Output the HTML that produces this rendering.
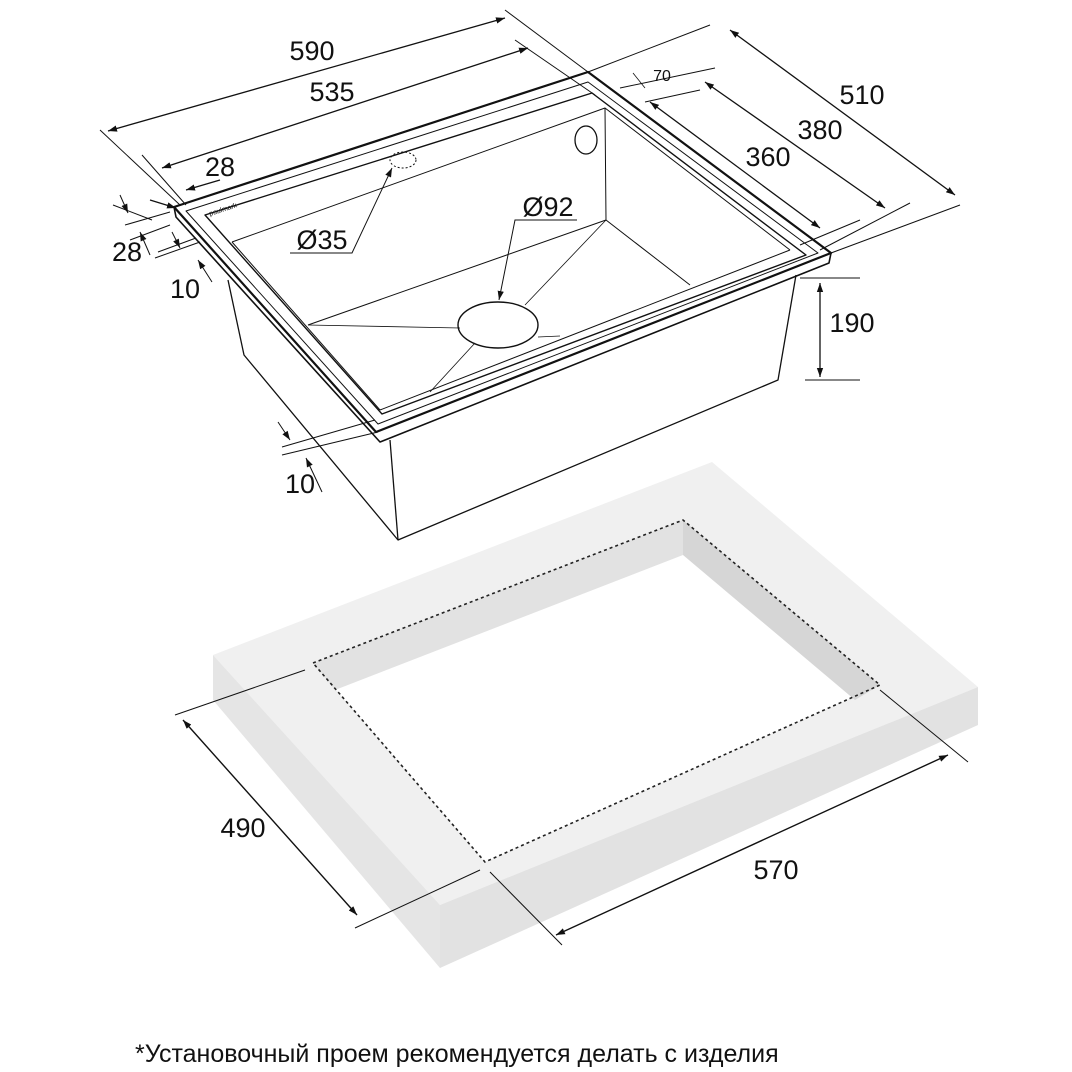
<!DOCTYPE html>
<html><head><meta charset="utf-8"><style>
html,body{margin:0;padding:0;background:#fff;width:1072px;height:1072px;overflow:hidden}
svg{display:block}
text{font-family:"Liberation Sans",sans-serif;fill:#111}
</style></head><body>
<svg width="1072" height="1072" viewBox="0 0 1072 1072" xmlns="http://www.w3.org/2000/svg">
<defs>
<marker id="a" viewBox="0 0 10 10" refX="10" refY="5" markerWidth="9" markerHeight="9" orient="auto-start-reverse" markerUnits="userSpaceOnUse"><path d="M0,1.5 L10,5 L0,8.5z" fill="#111"/></marker>
</defs>
<!-- countertop -->
<polygon points="213,655 712,462 978,687 440,905" fill="#f0f0f0"/>
<polygon points="213,655 440,905 440,968 213,700" fill="#e5e5e5"/>
<polygon points="440,905 978,687 978,725 440,968" fill="#e2e2e2"/>
<polygon points="313,663 683,520 880,685 485,862" fill="#fff"/>
<polygon points="313,663 683,520 683,555 335,690" fill="#e2e2e2"/>
<polygon points="683,520 880,685 855,700 683,555" fill="#d6d6d6"/>
<polygon points="313,663 683,520 880,685 485,862" fill="none" stroke="#222" stroke-width="1.6" stroke-dasharray="3,3"/>
<g stroke="#111" stroke-width="1" fill="none">
<line x1="175" y1="715" x2="305" y2="670"/>
<line x1="355" y1="928" x2="480" y2="870"/>
<line x1="183" y1="720" x2="357" y2="915" marker-start="url(#a)" marker-end="url(#a)" stroke-width="1.4"/>
<line x1="880" y1="690" x2="968" y2="762"/>
<line x1="490" y1="872" x2="562" y2="945"/>
<line x1="556" y1="935" x2="948" y2="755" marker-start="url(#a)" marker-end="url(#a)" stroke-width="1.4"/>
</g>
<text x="243" y="837" font-size="27" text-anchor="middle">490</text>
<text x="776" y="879" font-size="27" text-anchor="middle">570</text>

<!-- sink body -->
<g stroke="#111" fill="none" stroke-linejoin="round">
<path d="M228,280 L244,355 L398,540 L778,380 L796,275" stroke-width="1.3"/>
<path d="M390,440 L398,540" stroke-width="1.3"/>
<polygon points="174,207 588,72 831,253 376,432" stroke-width="2.2"/>
<path d="M174,207 L176,217 L380,442 L829,263 L831,253" stroke-width="1.6"/>
<polygon points="186,211 588,82 818,253 378,424" stroke-width="1"/>
<polygon points="205,215 592,93 806,255 382,414" stroke-width="1.4"/>
<path d="M232,242 L605,108 L606,220" stroke-width="1"/>
<path d="M308,325 L606,220 L690,285" stroke-width="1"/>
<path d="M605,108 L790,250" stroke-width="1"/>
<path d="M232,242 L380,410" stroke-width="1"/>
<path d="M380,410 L790,250" stroke-width="1"/>
<g stroke-width="0.8">
<line x1="606" y1="220" x2="525" y2="305"/>
<line x1="308" y1="325" x2="460" y2="328"/>
<line x1="430" y1="392" x2="475" y2="343"/>
<line x1="538" y1="337" x2="560" y2="336"/>
</g>
<ellipse cx="498" cy="325" rx="40" ry="23" stroke-width="1.4"/>
<ellipse cx="586" cy="140" rx="11" ry="14" stroke-width="1.3"/>
<ellipse cx="403" cy="160" rx="13" ry="8" stroke-width="1" stroke-dasharray="2,2"/>
</g>
<text x="210" y="216" font-size="7" transform="rotate(-18 210 216)">paulmark</text>

<!-- dimension lines sink -->
<g stroke="#111" stroke-width="1" fill="none">
<line x1="100" y1="130" x2="180" y2="205"/>
<line x1="505" y1="10" x2="588" y2="72"/>
<line x1="108" y1="131" x2="505" y2="18" marker-start="url(#a)" marker-end="url(#a)" stroke-width="1.3"/>
<line x1="142" y1="155" x2="186" y2="205"/>
<line x1="515" y1="40" x2="595" y2="95"/>
<line x1="162" y1="168" x2="528" y2="48" marker-start="url(#a)" marker-end="url(#a)" stroke-width="1.3"/>
<line x1="220" y1="180" x2="186" y2="190" marker-end="url(#a)" stroke-width="1.3"/>
<line x1="113" y1="205" x2="152" y2="220"/>
<line x1="150" y1="200" x2="176" y2="208" marker-end="url(#a)" stroke-width="1.3"/>
<line x1="120" y1="195" x2="128" y2="213" marker-end="url(#a)"/>
<line x1="130" y1="240" x2="170" y2="225"/>
<line x1="125" y1="225" x2="170" y2="212"/>
<line x1="150" y1="255" x2="140" y2="232" marker-end="url(#a)"/>
<line x1="172" y1="232" x2="180" y2="248" marker-end="url(#a)"/>
<line x1="155" y1="258" x2="200" y2="242"/>
<line x1="158" y1="252" x2="196" y2="238"/>
<line x1="212" y1="282" x2="198" y2="260" marker-end="url(#a)"/>
<line x1="278" y1="422" x2="290" y2="440" marker-end="url(#a)"/>
<line x1="282" y1="447" x2="375" y2="420"/>
<line x1="282" y1="455" x2="378" y2="432"/>
<line x1="322" y1="492" x2="306" y2="458" marker-end="url(#a)"/>
<!-- right -->
<line x1="588" y1="72" x2="710" y2="25"/>
<line x1="730" y1="30" x2="955" y2="195" marker-start="url(#a)" marker-end="url(#a)" stroke-width="1.3"/>
<line x1="831" y1="253" x2="960" y2="205"/>
<line x1="620" y1="88" x2="715" y2="68"/>
<line x1="705" y1="82" x2="885" y2="208" marker-start="url(#a)" marker-end="url(#a)" stroke-width="1.3"/>
<line x1="820" y1="250" x2="910" y2="203"/>
<line x1="645" y1="102" x2="700" y2="90"/>
<line x1="650" y1="102" x2="820" y2="228" marker-start="url(#a)" marker-end="url(#a)" stroke-width="1.3"/>
<line x1="800" y1="245" x2="860" y2="220"/>
<line x1="633" y1="73" x2="645" y2="88" stroke-width="0.8"/>
<line x1="800" y1="278" x2="860" y2="278"/>
<line x1="805" y1="380" x2="860" y2="380"/>
<line x1="820" y1="283" x2="820" y2="377" marker-start="url(#a)" marker-end="url(#a)" stroke-width="1.3"/>
<!-- leaders -->
<polyline points="290,253 352,253 392,168" marker-end="url(#a)"/>
<polyline points="577,220 515,220 499,300" marker-end="url(#a)"/>
</g>
<g font-size="27">
<text x="312" y="60" text-anchor="middle">590</text>
<text x="332" y="101" text-anchor="middle">535</text>
<text x="220" y="176" text-anchor="middle">28</text>
<text x="127" y="261" text-anchor="middle">28</text>
<text x="185" y="298" text-anchor="middle">10</text>
<text x="300" y="493" text-anchor="middle">10</text>
<text x="322" y="249" text-anchor="middle">Ø35</text>
<text x="548" y="216" text-anchor="middle">Ø92</text>
<text x="862" y="104" text-anchor="middle">510</text>
<text x="820" y="139" text-anchor="middle">380</text>
<text x="768" y="166" text-anchor="middle">360</text>
<text x="852" y="332" text-anchor="middle">190</text>
</g>
<text x="662" y="81" font-size="16" text-anchor="middle">70</text>
<text x="135" y="1062" font-size="25">*Установочный проем рекомендуется делать с изделия</text>
</svg>
</body></html>
